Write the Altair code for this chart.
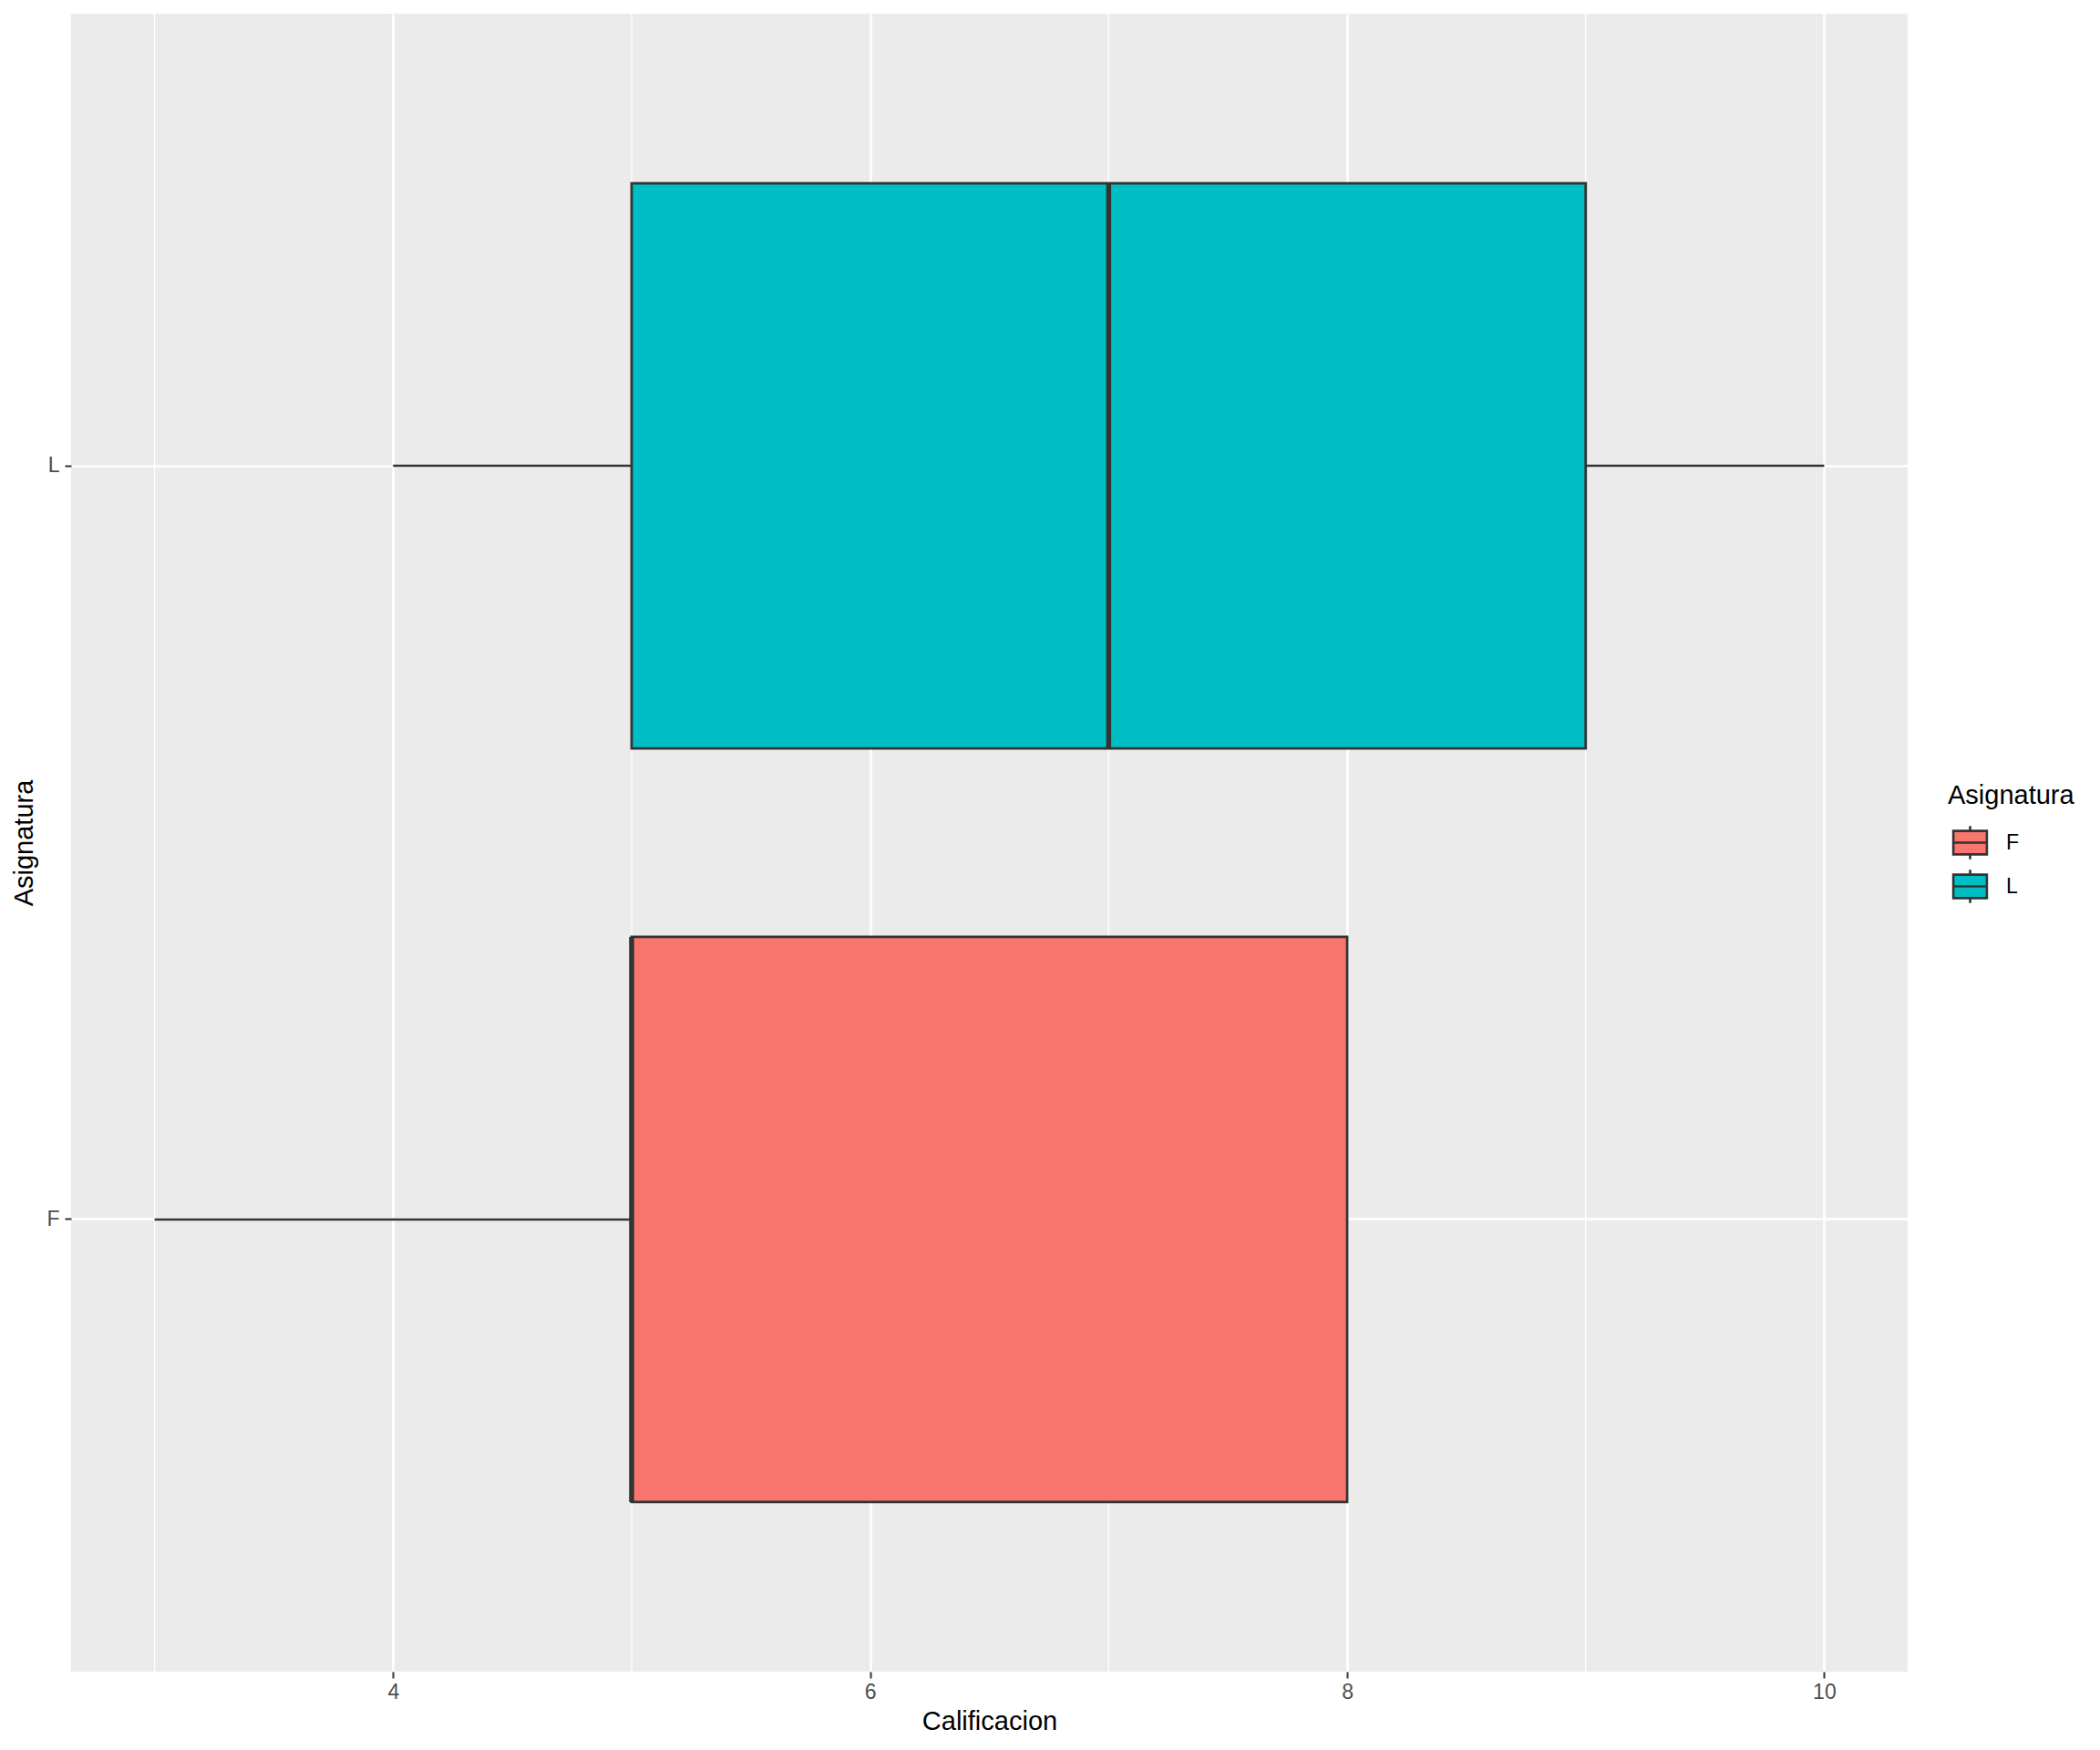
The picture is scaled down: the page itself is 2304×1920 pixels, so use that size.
import altair as alt
import pandas as pd

# ---- data ----
asignatura = ["F", "L"]
minimo = [3, 4]
q1 = [5, 5]
mediana = [5, 7]
q3 = [8, 9]
maximo = [8, 10]
x_ticks = [4, 6, 8, 10]
x_minor = [3, 5, 7, 9]
colores = ["#F8766D", "#00BFC4"]

df = pd.DataFrame({
    "Asignatura": asignatura,
    "minimo": minimo,
    "q1": q1,
    "mediana": mediana,
    "q3": q3,
    "maximo": maximo,
})
minor_df = pd.DataFrame({"v": x_minor})

W, H = 2015, 1819
FONT = "Liberation Sans"

xscale = alt.Scale(domain=[2.65, 10.35], nice=False, zero=False)
yscale = alt.Scale(domain=["L", "F"], paddingInner=0.25, paddingOuter=0.225)

xaxis = alt.Axis(
    values=x_ticks, grid=True, gridColor="white", gridWidth=2.7,
    domain=False, tickColor="#333333", tickWidth=2, tickSize=7,
    labelFont=FONT, labelFontSize=23, labelColor="#4D4D4D", labelPadding=4,
    title="Calificacion", titleFont=FONT, titleFontSize=29, titleColor="black",
    titleFontWeight="normal", titleX=W / 2, titleY=63,
    titleBaseline="alphabetic", titleAlign="center",
)
yaxis = alt.Axis(
    grid=True, gridColor="white", gridWidth=2.7, bandPosition=0.5,
    domain=False, tickColor="#333333", tickWidth=2, tickSize=7,
    labelFont=FONT, labelFontSize=23, labelColor="#4D4D4D", labelPadding=6,
    labelBaseline="middle",
    title="Asignatura", titleFont=FONT, titleFontSize=29, titleColor="black",
    titleFontWeight="normal", titleX=-52, titleY=H / 2, titleAngle=270,
    titleBaseline="middle", titleAlign="center",
)

X = lambda f: alt.X(f, scale=xscale, axis=xaxis, title="Calificacion")
Y = alt.Y("Asignatura:N", scale=yscale, axis=yaxis, title="Asignatura")

minor = alt.Chart(minor_df).mark_rule(color="white", strokeWidth=1.3).encode(
    x=X("v:Q")
)

whisk = alt.Chart(df).mark_rule(color="#333333", strokeWidth=2.5).encode(
    x=X("minimo:Q"), x2="maximo:Q", y=Y
)

glyph = ("M-0.8,-0.56H0.8V0.56H-0.8Z M-0.8,0H0.8 "
         "M0,-0.79V-0.56 M0,0.56V0.79")

box = alt.Chart(df).mark_bar(stroke="#333333", strokeWidth=2.8, opacity=1).encode(
    x=X("q1:Q"), x2="q3:Q", y=Y,
    fill=alt.Fill(
        "Asignatura:N",
        scale=alt.Scale(domain=asignatura, range=colores),
        legend=alt.Legend(
            title="Asignatura", orient="none", legendX=2059, legendY=844,
            symbolType=glyph, symbolSize=2116, symbolStrokeColor="#333333",
            symbolStrokeWidth=2.6, symbolOpacity=1,
            titleFont=FONT, titleFontSize=29, titleFontWeight="normal",
            titleColor="black", titleBaseline="top", titlePadding=12,
            labelFont=FONT, labelFontSize=23, labelColor="black",
            labelOffset=15, rowPadding=0,
        ),
    ),
)

med = alt.Chart(df).mark_tick(
    orient="vertical", size=620, thickness=5.5, color="#333333", opacity=1
).encode(x=X("mediana:Q"), y=Y)

chart = (
    alt.layer(minor, whisk, box, med)
    .properties(
        width=W, height=H,
        autosize=alt.AutoSizeParams(type="none"),
        padding={"left": 70, "top": 7, "right": 200, "bottom": 75},
        background="white",
    )
    .configure(font=FONT)
    .configure_view(fill="#EBEBEB", strokeWidth=0)
)

chart.save("out.html", embed_options={"renderer": "svg", "actions": False})
